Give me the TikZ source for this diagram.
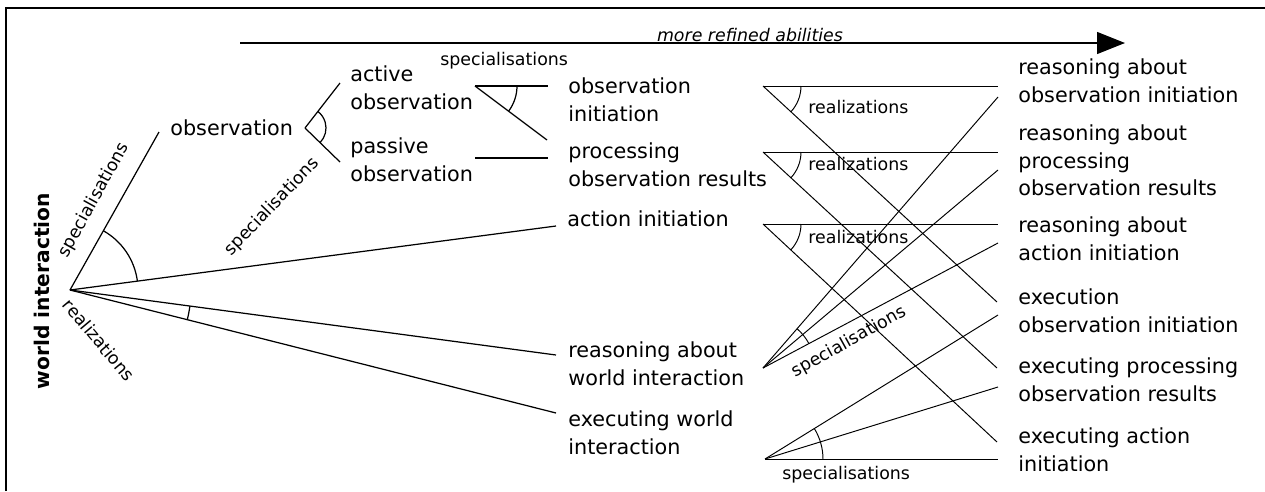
\documentclass[tikz,border=0pt]{standalone}
\usepackage{fontspec}
\setmainfont{DejaVu Sans}
\usetikzlibrary{arrows.meta, calc}

\newcommand{\diagfont}{\fontsize{11.8}{15.9}\selectfont}
\newcommand{\tagfont}{\fontsize{9.9}{12}\selectfont}

\begin{document}
\begin{tikzpicture}[x=0.02cm, y=-0.02cm,
    phrase/.style={font=\diagfont, align=left, anchor=north west, inner xsep=0.2cm, inner ysep=0pt},
    smalltag/.style={font=\tagfont, inner sep=0pt},
    link/.style={line width=0.7pt},
    thinlink/.style={line width=0.55pt}]
        \useasboundingbox (0,0) rectangle (1265,491);

        % Frame
        \draw[line width=1.1pt] (6,491) -- (6,8) -- (1265,8);

        % Direction of refinement
        \coordinate (lo) at (240,43);
        \coordinate (hi) at (1125,43);
        \draw[link, -{Triangle[length=15.9pt, width=12.5pt]}] (lo) -- (hi);
        \node[smalltag, font=\tagfont\itshape, anchor=base] (refined) at (750,41) {more refined abilities};

        % Abilities
        \node[font=\fontsize{11.5}{14}\selectfont\bfseries, rotate=90, anchor=base, inner sep=0pt] (wi) at (50,291) {world interaction};
        \node[phrase] (obs) at (160,119) {observation};
        \node[phrase] (act) at (340,65) {active\\observation};
        \node[phrase] (pas) at (340,137) {passive\\observation};
        \node[phrase] (oinit) at (558,77) {observation\\initiation};
        \node[phrase] (proc) at (558,142) {processing\\observation results};
        \node[phrase] (ainit) at (557,210) {action initiation};
        \node[phrase] (rwi) at (558,341) {reasoning about\\world interaction};
        \node[phrase] (ewi) at (558,410) {executing world\\interaction};
        \node[phrase] (roi) at (1008,58) {reasoning about\\observation initiation};
        \node[phrase] (rpor) at (1008,124) {reasoning about\\processing\\observation results};
        \node[phrase] (rai) at (1008,216) {reasoning about\\action initiation};
        \node[phrase] (eoi) at (1008,288) {execution\\observation initiation};
        \node[phrase] (epor) at (1008,357) {executing processing\\observation results};
        \node[phrase] (eai) at (1008,427) {executing action\\initiation};

        % Branch points
        \coordinate (hub) at (70,290);
        \coordinate (ov) at (305,128);
        \coordinate (av) at (475,86);
        \coordinate (pv) at (475,158);
        \coordinate (f1) at (763,86);
        \coordinate (f2) at (763,152);
        \coordinate (f3) at (763,224);
        \coordinate (rv) at (763,368);
        \coordinate (ev) at (765,459);

        % World interaction
        \draw[link] (hub) -- ($(obs.north west)+(-1,13)$);
        \draw[link] (hub) -- ($(ainit.north west)+(-1,16)$);
        \draw[link] (hub) -- ($(rwi.north west)+(-2,14)$);
        \draw[link] (hub) -- ($(ewi.north west)+(-2,3)$);
        \draw[link] ([shift={(7.5:1.36cm)}]hub) arc[start angle=7.5, end angle=60.6, radius=1.36cm];
        \draw[link] ([shift={(-14.2:2.42cm)}]hub) arc[start angle=-14.2, end angle=-7.6, radius=2.42cm];

        % Observation
        \draw[link] (ov) -- ($(act.north west)+(0,18)$);
        \draw[link] (ov) -- ($(pas.north west)+(0,25)$);
        \draw[link] ([shift={(-44.2:0.42cm)}]ov) arc[start angle=-44.2, end angle=52.1, radius=0.42cm];
        \draw[link] (av) -- ($(oinit.north west)+(-10,9)$);
        \draw[link] (av) -- ($(proc.north west)+(-11,-2)$);
        \draw[link] ([shift={(-36.9:0.84cm)}]av) arc[start angle=-36.9, end angle=0, radius=0.84cm];
        \draw[link] (pv) -- ($(proc.north west)+(-10,16)$);

        % Realizations
        \draw[thinlink] (f1) -- ($(roi.north west)+(-10,28)$);
        \draw[thinlink] (f1) -- ($(eoi.north west)+(-11,14)$);
        \draw[thinlink] (f2) -- ($(rpor.north west)+(-10,28)$);
        \draw[thinlink] (f2) -- ($(epor.north west)+(-11,11)$);
        \draw[thinlink] (f3) -- ($(rai.north west)+(-10,8)$);
        \draw[thinlink] (f3) -- ($(eai.north west)+(-11,15)$);
        \foreach \f in {f1, f2, f3} {
            \draw[thinlink] ([shift={(-42.7:0.76cm)}]\f) arc[start angle=-42.7, end angle=0, radius=0.76cm];
        }

        % Specialisations into reasoning and execution
        \foreach \n/\dy in {roi/39, rpor/46, rai/27} {
            \draw[thinlink] (rv) -- ($(\n.north west)+(-10,\dy)$);
        }
        \foreach \n/\dy in {eoi/27, epor/30, eai/32} {
            \draw[thinlink] (ev) -- ($(\n.north west)+(-10,\dy)$);
        }
        \draw[thinlink] ([shift={(28:1.04cm)}]rv) arc[start angle=28, end angle=49.1, radius=1.04cm];
        \draw[thinlink] ([shift={(0:1.16cm)}]ev) arc[start angle=0, end angle=31.7, radius=1.16cm];

        % Relation labels
        \node[smalltag, rotate=61] (specobs) at (94,200) {specialisations};
        \node[smalltag, rotate=-50] (realwi) at (99,340) {realizations};
        \node[smalltag, rotate=46] (specact) at (272,207) {specialisations};
        \node[smalltag, anchor=base west] (spectop) at (440,65) {specialisations};
        \node[smalltag, anchor=base west] (real1) at (808,113) {realizations};
        \node[smalltag, anchor=base west] (real2) at (808,170) {realizations};
        \node[smalltag, anchor=base west] (real3) at (808,243) {realizations};
        \node[smalltag, rotate=29] (specrwi) at (849,342) {specialisations};
        \node[smalltag, anchor=base west] (specewi) at (782,479) {specialisations};
    \end{tikzpicture}
\end{document}
